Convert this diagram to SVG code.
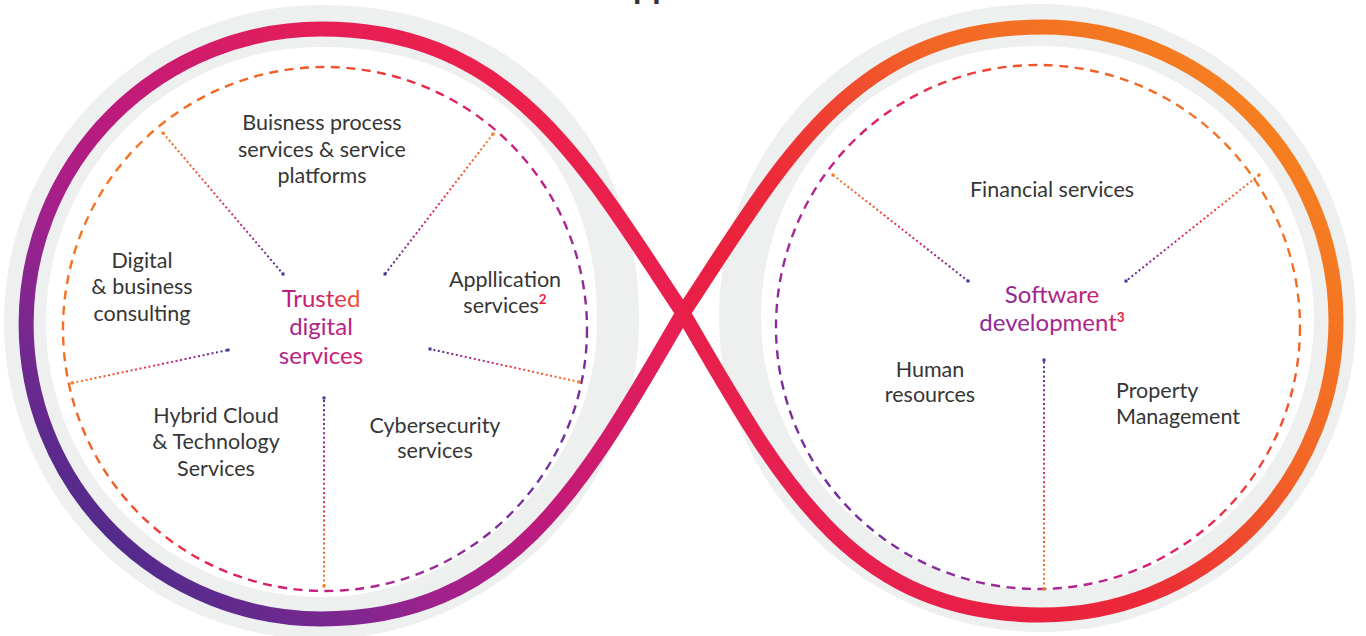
<svg xmlns="http://www.w3.org/2000/svg" width="1366" height="636" viewBox="0 0 1366 636">
<style>
.lbl{font-family:Lato,"Open Sans","Liberation Sans",sans-serif;font-size:21.5px;font-weight:400;fill:#363636;text-anchor:middle}
.start{text-anchor:start}
.big{font-family:Lato,"Open Sans","Liberation Sans",sans-serif;font-size:24px;font-weight:400;text-anchor:middle}
.sup{font-size:13.5px;font-weight:700;fill:#e9213c}
.ring{fill:none;stroke:#eeefef;stroke-width:42}
.loop{fill:none;stroke-width:15;stroke-linecap:round}
.dash{fill:none;stroke-width:2.4;stroke-dasharray:9 6.5}
.dot{fill:none;stroke-width:2;stroke-dasharray:2 2.6}
</style>
<defs>
<linearGradient id="gL" gradientUnits="userSpaceOnUse" x1="80" y1="540" x2="520" y2="80">
<stop offset="0" stop-color="#4a2b8a"/><stop offset="0.18" stop-color="#782890"/><stop offset="0.32" stop-color="#a0218c"/><stop offset="0.52" stop-color="#bc1a7c"/><stop offset="0.7" stop-color="#d51c68"/><stop offset="0.85" stop-color="#e61e55"/><stop offset="1" stop-color="#ec2149"/>
</linearGradient>
<linearGradient id="gR" gradientUnits="userSpaceOnUse" x1="800" y1="560" x2="1300" y2="120">
<stop offset="0" stop-color="#e61f58"/><stop offset="0.2" stop-color="#e9203f"/><stop offset="0.35" stop-color="#ec2a38"/><stop offset="0.5" stop-color="#ef4630"/><stop offset="0.65" stop-color="#f26526"/><stop offset="1" stop-color="#f6821f"/>
</linearGradient>
<linearGradient id="dL" gradientUnits="userSpaceOnUse" x1="63" y1="200" x2="587" y2="450">
<stop offset="0" stop-color="#f47a22"/><stop offset="0.3" stop-color="#f15a2a"/><stop offset="0.5" stop-color="#e8204f"/><stop offset="0.7" stop-color="#c42085"/><stop offset="0.85" stop-color="#9a2a95"/><stop offset="1" stop-color="#5e33a0"/>
</linearGradient>
<linearGradient id="dR" gradientUnits="userSpaceOnUse" x1="800" y1="500" x2="1300" y2="150">
<stop offset="0" stop-color="#6a30a0"/><stop offset="0.2" stop-color="#9a2a98"/><stop offset="0.35" stop-color="#c42085"/><stop offset="0.5" stop-color="#e8205a"/><stop offset="0.7" stop-color="#f0502c"/><stop offset="1" stop-color="#f5821f"/>
</linearGradient>
<linearGradient id="sp" x1="0" y1="0" x2="1" y2="0">
<stop offset="0" stop-color="#f47b20"/><stop offset="0.4" stop-color="#ef3c3a"/><stop offset="0.65" stop-color="#c4207e"/><stop offset="1" stop-color="#4e2d94"/>
</linearGradient>
<linearGradient id="s1" href="#sp" gradientUnits="userSpaceOnUse" x1="163" y1="133" x2="283" y2="274"/>
<linearGradient id="s2" href="#sp" gradientUnits="userSpaceOnUse" x1="493" y1="134" x2="385" y2="274"/>
<linearGradient id="s3" href="#sp" gradientUnits="userSpaceOnUse" x1="72" y1="383" x2="228" y2="350"/>
<linearGradient id="s4" href="#sp" gradientUnits="userSpaceOnUse" x1="579" y1="382" x2="430" y2="349"/>
<linearGradient id="s5" href="#sp" gradientUnits="userSpaceOnUse" x1="324" y1="586" x2="324" y2="398"/>
<linearGradient id="s6" href="#sp" gradientUnits="userSpaceOnUse" x1="833" y1="175" x2="968" y2="281"/>
<linearGradient id="s7" href="#sp" gradientUnits="userSpaceOnUse" x1="1259" y1="175" x2="1126" y2="281"/>
<linearGradient id="s8" href="#sp" gradientUnits="userSpaceOnUse" x1="1044" y1="589" x2="1044" y2="360"/>
<linearGradient id="tTrusted" x1="0" y1="0" x2="1" y2="0"><stop offset="0" stop-color="#b21f84"/><stop offset="0.55" stop-color="#d81d62"/><stop offset="1" stop-color="#f05530"/></linearGradient>
<linearGradient id="tDigital" x1="0" y1="0" x2="1" y2="0"><stop offset="0" stop-color="#a4248e"/><stop offset="1" stop-color="#c21f80"/></linearGradient>
<linearGradient id="tServices" x1="0" y1="0" x2="1" y2="0"><stop offset="0" stop-color="#ac238b"/><stop offset="1" stop-color="#d81e68"/></linearGradient>
<linearGradient id="tSoft" x1="0" y1="0" x2="1" y2="0"><stop offset="0" stop-color="#8a2896"/><stop offset="1" stop-color="#cc2076"/></linearGradient>
<linearGradient id="tDev" x1="0" y1="0" x2="1" y2="0"><stop offset="0" stop-color="#862a98"/><stop offset="0.85" stop-color="#b8228a"/><stop offset="1" stop-color="#e9213c"/></linearGradient>
</defs>
<rect width="1366" height="636" fill="#ffffff"/>
<text x="633" y="-2.5" font-family="Lato,'Liberation Sans',sans-serif" font-size="34" font-weight="700" fill="#333333">pp</text>

<g id="rings">
<path class="ring" d="M321,26 A296 296 0 0 0 321,618 C480,618 618,480 618,322 C620,160 515,26 321,26 Z"/>
<path class="ring" d="M1040,25 A295 293 0 0 1 1040,611 C880,611 740,478 740,318 C740,160 860,25 1040,25 Z"/>
</g>

<g id="connectors">
<path class="loop" stroke="url(#gL)" d="M683,313 C584,163.6 510,29 321,29 A295 295 0 0 0 321,619 C510,619 584,484 683,313"/>
<path class="loop" stroke="url(#gR)" d="M683,313 C782,163.6 852,27 1042,27 A294 294 0 0 1 1042,615 C852,615 782,484 683,313"/>
<circle class="dash" stroke="url(#dL)" cx="325" cy="329" r="262"/>
<circle class="dash" stroke="url(#dR)" cx="1038" cy="327" r="262"/>
<line class="dot" stroke="url(#s1)" x1="163" y1="133" x2="283" y2="274"/>
<line class="dot" stroke="url(#s2)" x1="493" y1="134" x2="385" y2="274"/>
<line class="dot" stroke="url(#s3)" x1="72" y1="383" x2="228" y2="350"/>
<line class="dot" stroke="url(#s4)" x1="579" y1="382" x2="430" y2="349"/>
<line class="dot" stroke="url(#s5)" x1="324" y1="586" x2="324" y2="398"/>
<line class="dot" stroke="url(#s6)" x1="833" y1="175" x2="968" y2="281"/>
<line class="dot" stroke="url(#s7)" x1="1259" y1="175" x2="1126" y2="281"/>
<line class="dot" stroke="url(#s8)" x1="1044" y1="589" x2="1044" y2="360"/>
<g fill="#f47b20">
<rect x="161.5" y="131.5" width="3" height="3"/><rect x="491.5" y="132.5" width="3" height="3"/><rect x="70.5" y="381.5" width="3" height="3"/><rect x="577.5" y="380.5" width="3" height="3"/><rect x="322.5" y="584.5" width="3" height="3"/><rect x="831.5" y="173.5" width="3" height="3"/><rect x="1257.5" y="173.5" width="3" height="3"/><rect x="1042.5" y="587.5" width="3" height="3"/>
</g>
<g fill="#4e2d94">
<rect x="281.5" y="272.5" width="3" height="3"/><rect x="383.5" y="272.5" width="3" height="3"/><rect x="226.5" y="348.5" width="3" height="3"/><rect x="428.5" y="347.5" width="3" height="3"/><rect x="322.5" y="396.5" width="3" height="3"/><rect x="966.5" y="279.5" width="3" height="3"/><rect x="1124.5" y="279.5" width="3" height="3"/><rect x="1042.5" y="358.5" width="3" height="3"/>
</g>
</g>

<g id="trusted-digital-services">
<text class="big" x="321" y="307" fill="url(#tTrusted)">Trusted</text>
<text class="big" x="321" y="335" fill="url(#tDigital)">digital</text>
<text class="big" x="321" y="364" fill="url(#tServices)">services</text>
</g>
<g id="business-process">
<text class="lbl" x="322" y="130">Buisness process</text>
<text class="lbl" x="322" y="157">services &amp; service</text>
<text class="lbl" x="322" y="183">platforms</text>
</g>
<g id="digital-consulting">
<text class="lbl" x="142" y="268">Digital</text>
<text class="lbl" x="142" y="294">&amp; business</text>
<text class="lbl" x="142" y="321">consulting</text>
</g>
<g id="application-services">
<text class="lbl" x="505" y="287">Appllication</text>
<text class="lbl" x="505" y="313">services<tspan class="sup" dy="-9">2</tspan></text>
</g>
<g id="hybrid-cloud">
<text class="lbl" x="216" y="423">Hybrid Cloud</text>
<text class="lbl" x="216" y="449">&amp; Technology</text>
<text class="lbl" x="216" y="476">Services</text>
</g>
<g id="cybersecurity">
<text class="lbl" x="435" y="433">Cybersecurity</text>
<text class="lbl" x="435" y="458">services</text>
</g>

<g id="software-development">
<text class="big" x="1052" y="303" fill="url(#tSoft)">Software</text>
<text class="big" x="1052" y="331" fill="url(#tDev)">development<tspan class="sup" dy="-9">3</tspan></text>
</g>
<g id="financial-services">
<text class="lbl" x="1052" y="197">Financial services</text>
</g>
<g id="human-resources">
<text class="lbl" x="930" y="377">Human</text>
<text class="lbl" x="930" y="402">resources</text>
</g>
<g id="property-management">
<text class="lbl start" x="1116" y="398">Property</text>
<text class="lbl start" x="1116" y="424">Management</text>
</g>
</svg>
